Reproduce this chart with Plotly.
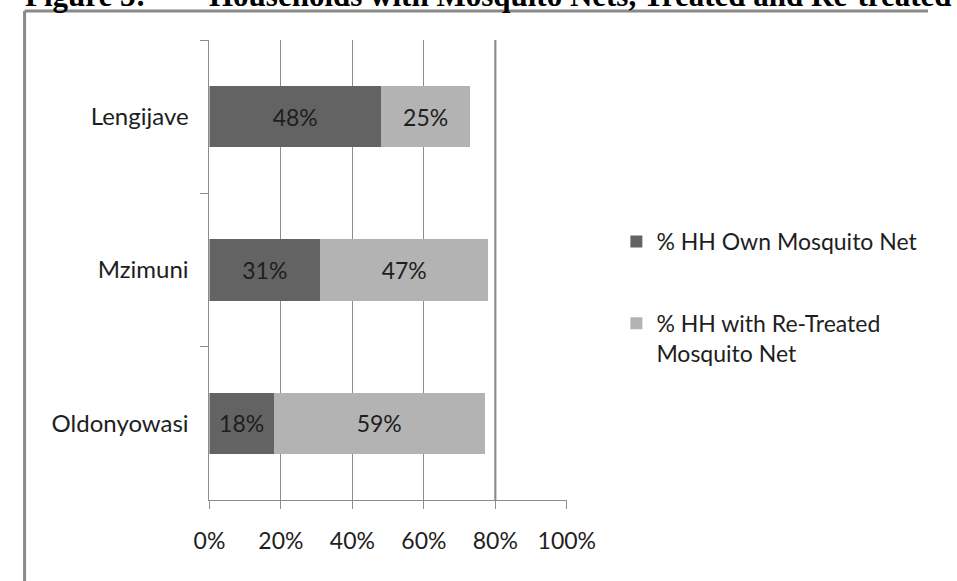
import plotly.graph_objects as go

# Villages, top to bottom
villages = ["Lengijave", "Mzimuni", "Oldonyowasi"]
# Percentage of households per village
own_net = [48, 31, 18]
retreated_net = [25, 47, 59]
series_names = ["% HH Own Mosquito Net", "% HH with Re-Treated<br>Mosquito Net"]
series_colors = ["#636363", "#b3b3b3"]
x_ticks = [0, 20, 40, 60, 80, 100]
x_tick_labels = ["0%", "20%", "40%", "60%", "80%", "100%"]

W, H = 957, 581
FONT = "Lato"
TEXT = "#1e1e1e"
GRID = "#8c8c8c"
FRAME = "#8a8a8a"


def px_x(p):
    return p / W


def px_y(p):
    return 1 - p / H


fig = go.Figure()
for name, values, color in zip(series_names, [own_net, retreated_net], series_colors):
    fig.add_trace(go.Bar(
        y=villages,
        x=values,
        orientation="h",
        name=name,
        legendgroup=name,
        marker=dict(color=color, line=dict(width=0)),
        text=[f"{v}%" for v in values],
        textposition="inside",
        insidetextanchor="middle",
        textfont=dict(family=FONT, size=23, color=TEXT),
        constraintext="none",
        hoverinfo="skip",
    ))

fig.update_layout(
    width=W,
    height=H,
    margin=dict(l=0, r=0, t=0, b=0),
    paper_bgcolor="white",
    plot_bgcolor="white",
    barmode="stack",
    bargap=0.6,
    showlegend=True,
    legend=dict(
        x=px_x(630),
        y=px_y(220),
        xanchor="left",
        yanchor="top",
        traceorder="grouped",
        tracegroupgap=49,
        valign="top",
        font=dict(family=FONT, size=23, color=TEXT),
        bgcolor="rgba(0,0,0,0)",
    ),
    xaxis=dict(
        domain=[px_x(203), px_x(578)],
        range=[0, 100],
        tickvals=x_ticks,
        ticktext=x_tick_labels,
        showgrid=True,
        gridcolor=GRID,
        gridwidth=1,
        zeroline=False,
        showline=True,
        linecolor=GRID,
        linewidth=1,
        ticks="outside",
        ticklen=8,
        tickcolor=GRID,
        ticklabelstandoff=12,
        tickfont=dict(family=FONT, size=23, color=TEXT),
        fixedrange=True,
    ),
    yaxis=dict(
        domain=[px_y(500), px_y(40)],
        type="category",
        autorange="reversed",
        tickson="boundaries",
        ticks="outside",
        ticklen=8,
        tickcolor=GRID,
        showline=True,
        linecolor=GRID,
        linewidth=1,
        showgrid=False,
        ticklabelstandoff=15,
        tickfont=dict(family=FONT, size=24, color=TEXT),
        fixedrange=True,
    ),
    shapes=[
        # heavier 80% reference line
        dict(type="line", xref="x", yref="paper", x0=80, x1=80,
             y0=px_y(500), y1=px_y(40), line=dict(color="#7a7a7a", width=2), layer="below"),
        # frame around the chart
        dict(type="line", xref="paper", yref="paper", x0=px_x(9), x1=px_x(9),
             y0=0, y1=px_y(11), line=dict(color=FRAME, width=3)),
        dict(type="line", xref="paper", yref="paper", x0=px_x(9), x1=1,
             y0=px_y(11), y1=px_y(11), line=dict(color=FRAME, width=3)),
    ],
    annotations=[
        dict(text="<b>Figure 3:</b>", xref="paper", yref="paper",
             x=px_x(7), y=px_y(15), xanchor="left", yanchor="bottom", showarrow=False,
             font=dict(family="Liberation Serif", size=31, color="black")),
        dict(text="<b>Households with Mosquito Nets, Treated and Re-treated</b>",
             xref="paper", yref="paper", x=px_x(200), y=px_y(15),
             xanchor="left", yanchor="bottom", showarrow=False,
             font=dict(family="Liberation Serif", size=31, color="black")),
    ],
)

fig.write_html("out.html")
